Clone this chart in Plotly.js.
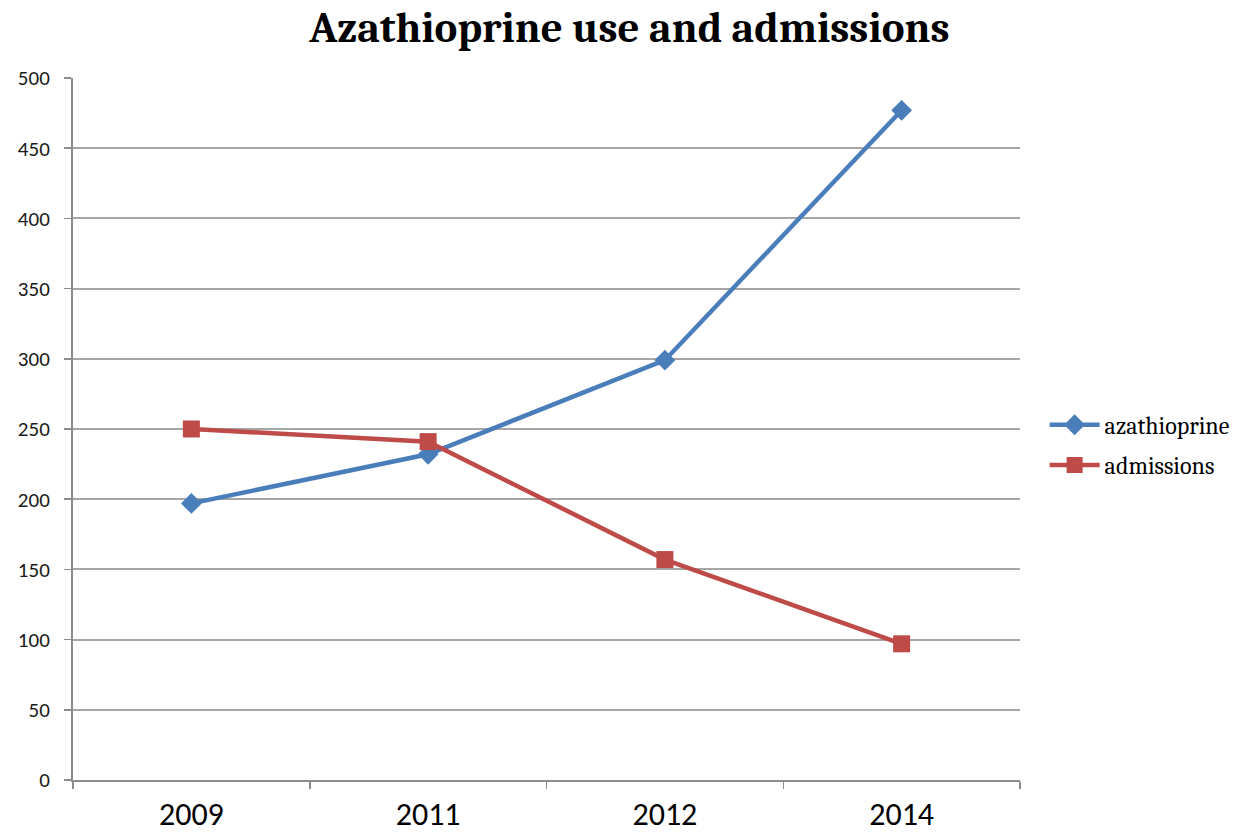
<!DOCTYPE html>
<html>
<head>
<meta charset="utf-8">
<script src="https://cdn.plot.ly/plotly-3.0.1.min.js"></script>
<style>
  html, body { margin: 0; padding: 0; background: #ffffff; }
  #chart { width: 1239px; height: 838px; }
</style>
</head>
<body>
<div id="chart"></div>
<script>
// Yearly figures for azathioprine use and hospital admissions
const years = ['2009', '2011', '2012', '2014'];
const azathioprine = [197, 232, 299, 477];
const admissions = [250, 241, 157, 97];
const yTicks = [0, 50, 100, 150, 200, 250, 300, 350, 400, 450, 500];

const serif = 'Cambria, "DejaVu Serif", "Liberation Serif", serif';
const sans = 'Calibri, "Liberation Sans", Arial, sans-serif';

const traces = [
  {
    x: years, y: azathioprine, name: 'azathioprine', legendgroup: 'aza',
    type: 'scatter', mode: 'lines+markers',
    line: { color: '#4A7EBB', width: 4.5 },
    marker: { symbol: 'diamond', size: 16, color: '#4A7EBB' }
  },
  {
    x: years, y: admissions, name: 'admissions', legendgroup: 'adm',
    type: 'scatter', mode: 'lines+markers',
    line: { color: '#BE4B48', width: 4.5 },
    marker: { symbol: 'square', size: 17, color: '#BE4B48' }
  }
];

const layout = {
  width: 1239, height: 838,
  margin: { l: 73, r: 219, t: 78, b: 58, autoexpand: false },
  paper_bgcolor: '#ffffff', plot_bgcolor: '#ffffff',
  title: {
    text: '<b>Azathioprine use and admissions</b>',
    font: { family: serif, size: 43, color: '#000000' },
    x: 0.508, xanchor: 'center', y: 0.968, yanchor: 'middle'
  },
  xaxis: {
    type: 'category',
    range: [-0.5, years.length - 0.5],
    showgrid: false,
    showline: true, linecolor: '#8c8c8c', linewidth: 2,
    ticks: 'outside', tickson: 'boundaries', ticklen: 7, tickcolor: '#8c8c8c', tickwidth: 1.5,
    tickfont: { family: sans, size: 32, color: '#000000' },
    ticklabelstandoff: 5,
    fixedrange: true
  },
  yaxis: {
    range: [0, 500],
    tickvals: yTicks,
    showgrid: true, gridcolor: '#a6a6a6', gridwidth: 2,
    zeroline: false,
    showline: true, linecolor: '#8c8c8c', linewidth: 2,
    ticks: 'outside', ticklen: 7, tickcolor: '#8c8c8c', tickwidth: 1.5,
    tickfont: { family: sans, size: 21, color: '#1a1a1a' },
    ticklabelstandoff: 10,
    fixedrange: true
  },
  legend: {
    x: 1.026, xanchor: 'left', y: 0.477, yanchor: 'middle',
    font: { family: serif, size: 24, color: '#000000' },
    itemwidth: 50, tracegroupgap: 6,
    bgcolor: 'rgba(0,0,0,0)'
  },
  showlegend: true
};

Plotly.newPlot('chart', traces, layout, { displayModeBar: false, staticPlot: true });
</script>
</body>
</html>
